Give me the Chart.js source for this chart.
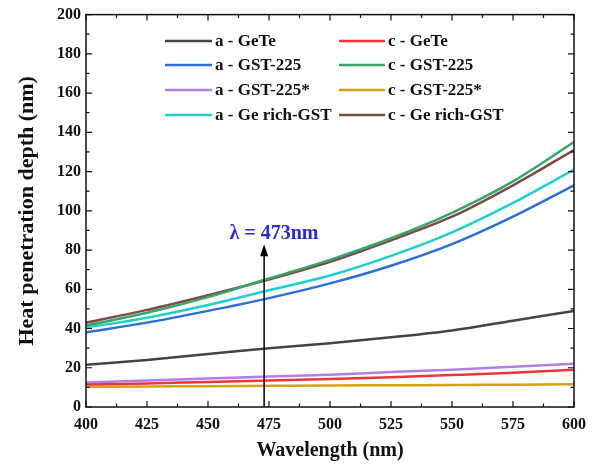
<!DOCTYPE html>
<html>
<head>
<meta charset="utf-8">
<script src="https://cdn.jsdelivr.net/npm/chart.js@4.4.1/dist/chart.umd.min.js"></script>
<style>
  html, body { margin: 0; padding: 0; background: #fff; }
  #wrap { width: 594px; height: 467px; }
</style>
</head>
<body>
<div id="wrap"><canvas id="heat-chart"></canvas></div>
<script>
// Data
var wavelengths = [400, 425, 450, 475, 500, 525, 550, 575, 600];
var aGeTe     = [21.5, 24, 27, 30, 32.5, 35.5, 39, 44, 49];
var cGeTe     = [11.5, 12, 12.8, 13.5, 14.3, 15.2, 16.3, 17.5, 19];
var aGST225   = [38, 43, 49, 55.5, 63, 72, 83, 97, 113];
var cGST225   = [41.5, 48, 56, 65.5, 75, 86, 99, 115, 135];
var aGST225s  = [12.5, 13.5, 14.5, 15.5, 16.5, 17.8, 19, 20.5, 22];
var cGST225s  = [10.3, 10.5, 10.6, 10.8, 11, 11.1, 11.2, 11.4, 11.6];
var aGeRich   = [40.5, 45.5, 52, 59.5, 67, 77, 89, 104, 121];
var cGeRich   = [43, 49.5, 57, 65, 74, 85, 97, 113, 131];

var seriesLabels = ['a - GeTe', 'c - GeTe', 'a - GST-225', 'c - GST-225',
                    'a - GST-225*', 'c - GST-225*', 'a - Ge rich-GST', 'c - Ge rich-GST'];
var seriesValues = [aGeTe, cGeTe, aGST225, cGST225, aGST225s, cGST225s, aGeRich, cGeRich];
var seriesColors = ['#444444', '#e8383d', '#2f6fdc', '#3aa569', '#b27fe6', '#d4a11a', '#22cfcf', '#7d4b49'];

var laserWavelength = 473;
var arrowTop = 83;

var serif = "'Liberation Serif', 'DejaVu Serif', serif";

function toPoints(vals) {
  return wavelengths.map(function (w, i) { return { x: w, y: vals[i] }; });
}

var datasets = seriesValues.map(function (vals, i) {
  return {
    label: seriesLabels[i],
    data: toPoints(vals),
    borderColor: seriesColors[i],
    backgroundColor: seriesColors[i],
    borderWidth: 2.5,
    pointRadius: 0,
    cubicInterpolationMode: 'monotone',
    fill: false
  };
});

// inward ticks on all four sides + frame
var frameTicks = {
  id: 'frameTicks',
  afterDraw: function (chart) {
    var ctx = chart.ctx, a = chart.chartArea;
    var xs = chart.scales.x, ys = chart.scales.y;
    ctx.save();
    ctx.strokeStyle = '#111';
    ctx.lineWidth = 1.5;
    ctx.strokeRect(a.left, a.top, a.right - a.left, a.bottom - a.top);
    ctx.lineWidth = 1.2;
    for (var v = 400; v <= 600; v += 12.5) {
      var px = xs.getPixelForValue(v);
      var len = (v % 25 === 0) ? 6 : 3.5;
      ctx.beginPath();
      ctx.moveTo(px, a.bottom); ctx.lineTo(px, a.bottom - len);
      ctx.moveTo(px, a.top); ctx.lineTo(px, a.top + len);
      ctx.stroke();
    }
    for (var y = 0; y <= 200; y += 10) {
      var py = ys.getPixelForValue(y);
      var l2 = (y % 20 === 0) ? 6 : 3.5;
      ctx.beginPath();
      ctx.moveTo(a.left, py); ctx.lineTo(a.left + l2, py);
      ctx.moveTo(a.right, py); ctx.lineTo(a.right - l2, py);
      ctx.stroke();
    }
    ctx.restore();
  }
};

// arrow at the laser wavelength and its label
var laserArrow = {
  id: 'laserArrow',
  afterDatasetsDraw: function (chart) {
    var ctx = chart.ctx;
    var xs = chart.scales.x, ys = chart.scales.y;
    var px = xs.getPixelForValue(laserWavelength);
    var y0 = ys.getPixelForValue(0), y1 = ys.getPixelForValue(arrowTop);
    ctx.save();
    ctx.strokeStyle = '#000';
    ctx.fillStyle = '#000';
    ctx.lineWidth = 1.5;
    ctx.beginPath();
    ctx.moveTo(px, y0); ctx.lineTo(px, y1 + 10);
    ctx.stroke();
    ctx.beginPath();
    ctx.moveTo(px, y1); ctx.lineTo(px - 4, y1 + 12); ctx.lineTo(px + 4, y1 + 12);
    ctx.closePath(); ctx.fill();
    ctx.fillStyle = '#2a2ad8';
    ctx.font = 'bold 20px ' + serif;
    ctx.textAlign = 'left';
    ctx.textBaseline = 'middle';
    ctx.fillText('\u03bb = 473nm', xs.getPixelForValue(458.8), ys.getPixelForValue(88.5));
    ctx.restore();
  }
};

// two-column legend inside the plot
var innerLegend = {
  id: 'innerLegend',
  afterDraw: function (chart) {
    var ctx = chart.ctx;
    var cols = [{ x: 165, w: 47 }, { x: 339, w: 46 }];
    var rows = [41, 65, 90, 115];
    ctx.save();
    ctx.font = 'bold 17px ' + serif;
    ctx.textBaseline = 'middle';
    ctx.textAlign = 'left';
    chart.data.datasets.forEach(function (ds, i) {
      var c = cols[i % 2], ry = rows[Math.floor(i / 2)];
      ctx.strokeStyle = ds.borderColor;
      ctx.lineWidth = 2.5;
      ctx.beginPath();
      ctx.moveTo(c.x, ry); ctx.lineTo(c.x + c.w, ry);
      ctx.stroke();
      ctx.fillStyle = '#111';
      ctx.fillText(ds.label, c.x + c.w + 3, ry + 1);
    });
    ctx.restore();
  }
};

var heatChart = new Chart(document.getElementById('heat-chart'), {
  type: 'line',
  data: { datasets: datasets },
  plugins: [frameTicks, laserArrow, innerLegend],
  options: {
    responsive: true,
    maintainAspectRatio: false,
    animation: false,
    layout: { padding: { top: 11, right: 14, left: 0, bottom: 0 } },
    plugins: {
      legend: { display: false },
      tooltip: { enabled: false }
    },
    scales: {
      x: {
        type: 'linear',
        min: 400,
        max: 600,
        grid: { display: false, drawTicks: false },
        border: { display: false },
        ticks: {
          stepSize: 25,
          padding: 8,
          color: '#111',
          font: { family: serif, size: 16, weight: 'bold' }
        },
        title: {
          display: true,
          text: 'Wavelength (nm)',
          color: '#111',
          padding: { top: 8 },
          font: { family: serif, size: 20, weight: 'bold' }
        },
        afterFit: function (s) { s.height = 60; }
      },
      y: {
        min: 0,
        max: 200,
        grid: { display: false, drawTicks: false },
        border: { display: false },
        ticks: {
          stepSize: 20,
          padding: 5,
          color: '#111',
          font: { family: serif, size: 16, weight: 'bold' }
        },
        title: {
          display: true,
          text: 'Heat penetration depth (nm)',
          color: '#111',
          padding: { top: 14, bottom: 0 },
          font: { family: serif, size: 22, weight: 'bold' }
        },
        afterFit: function (s) { s.width = 86; }
      }
    }
  }
});
</script>
</body>
</html>
